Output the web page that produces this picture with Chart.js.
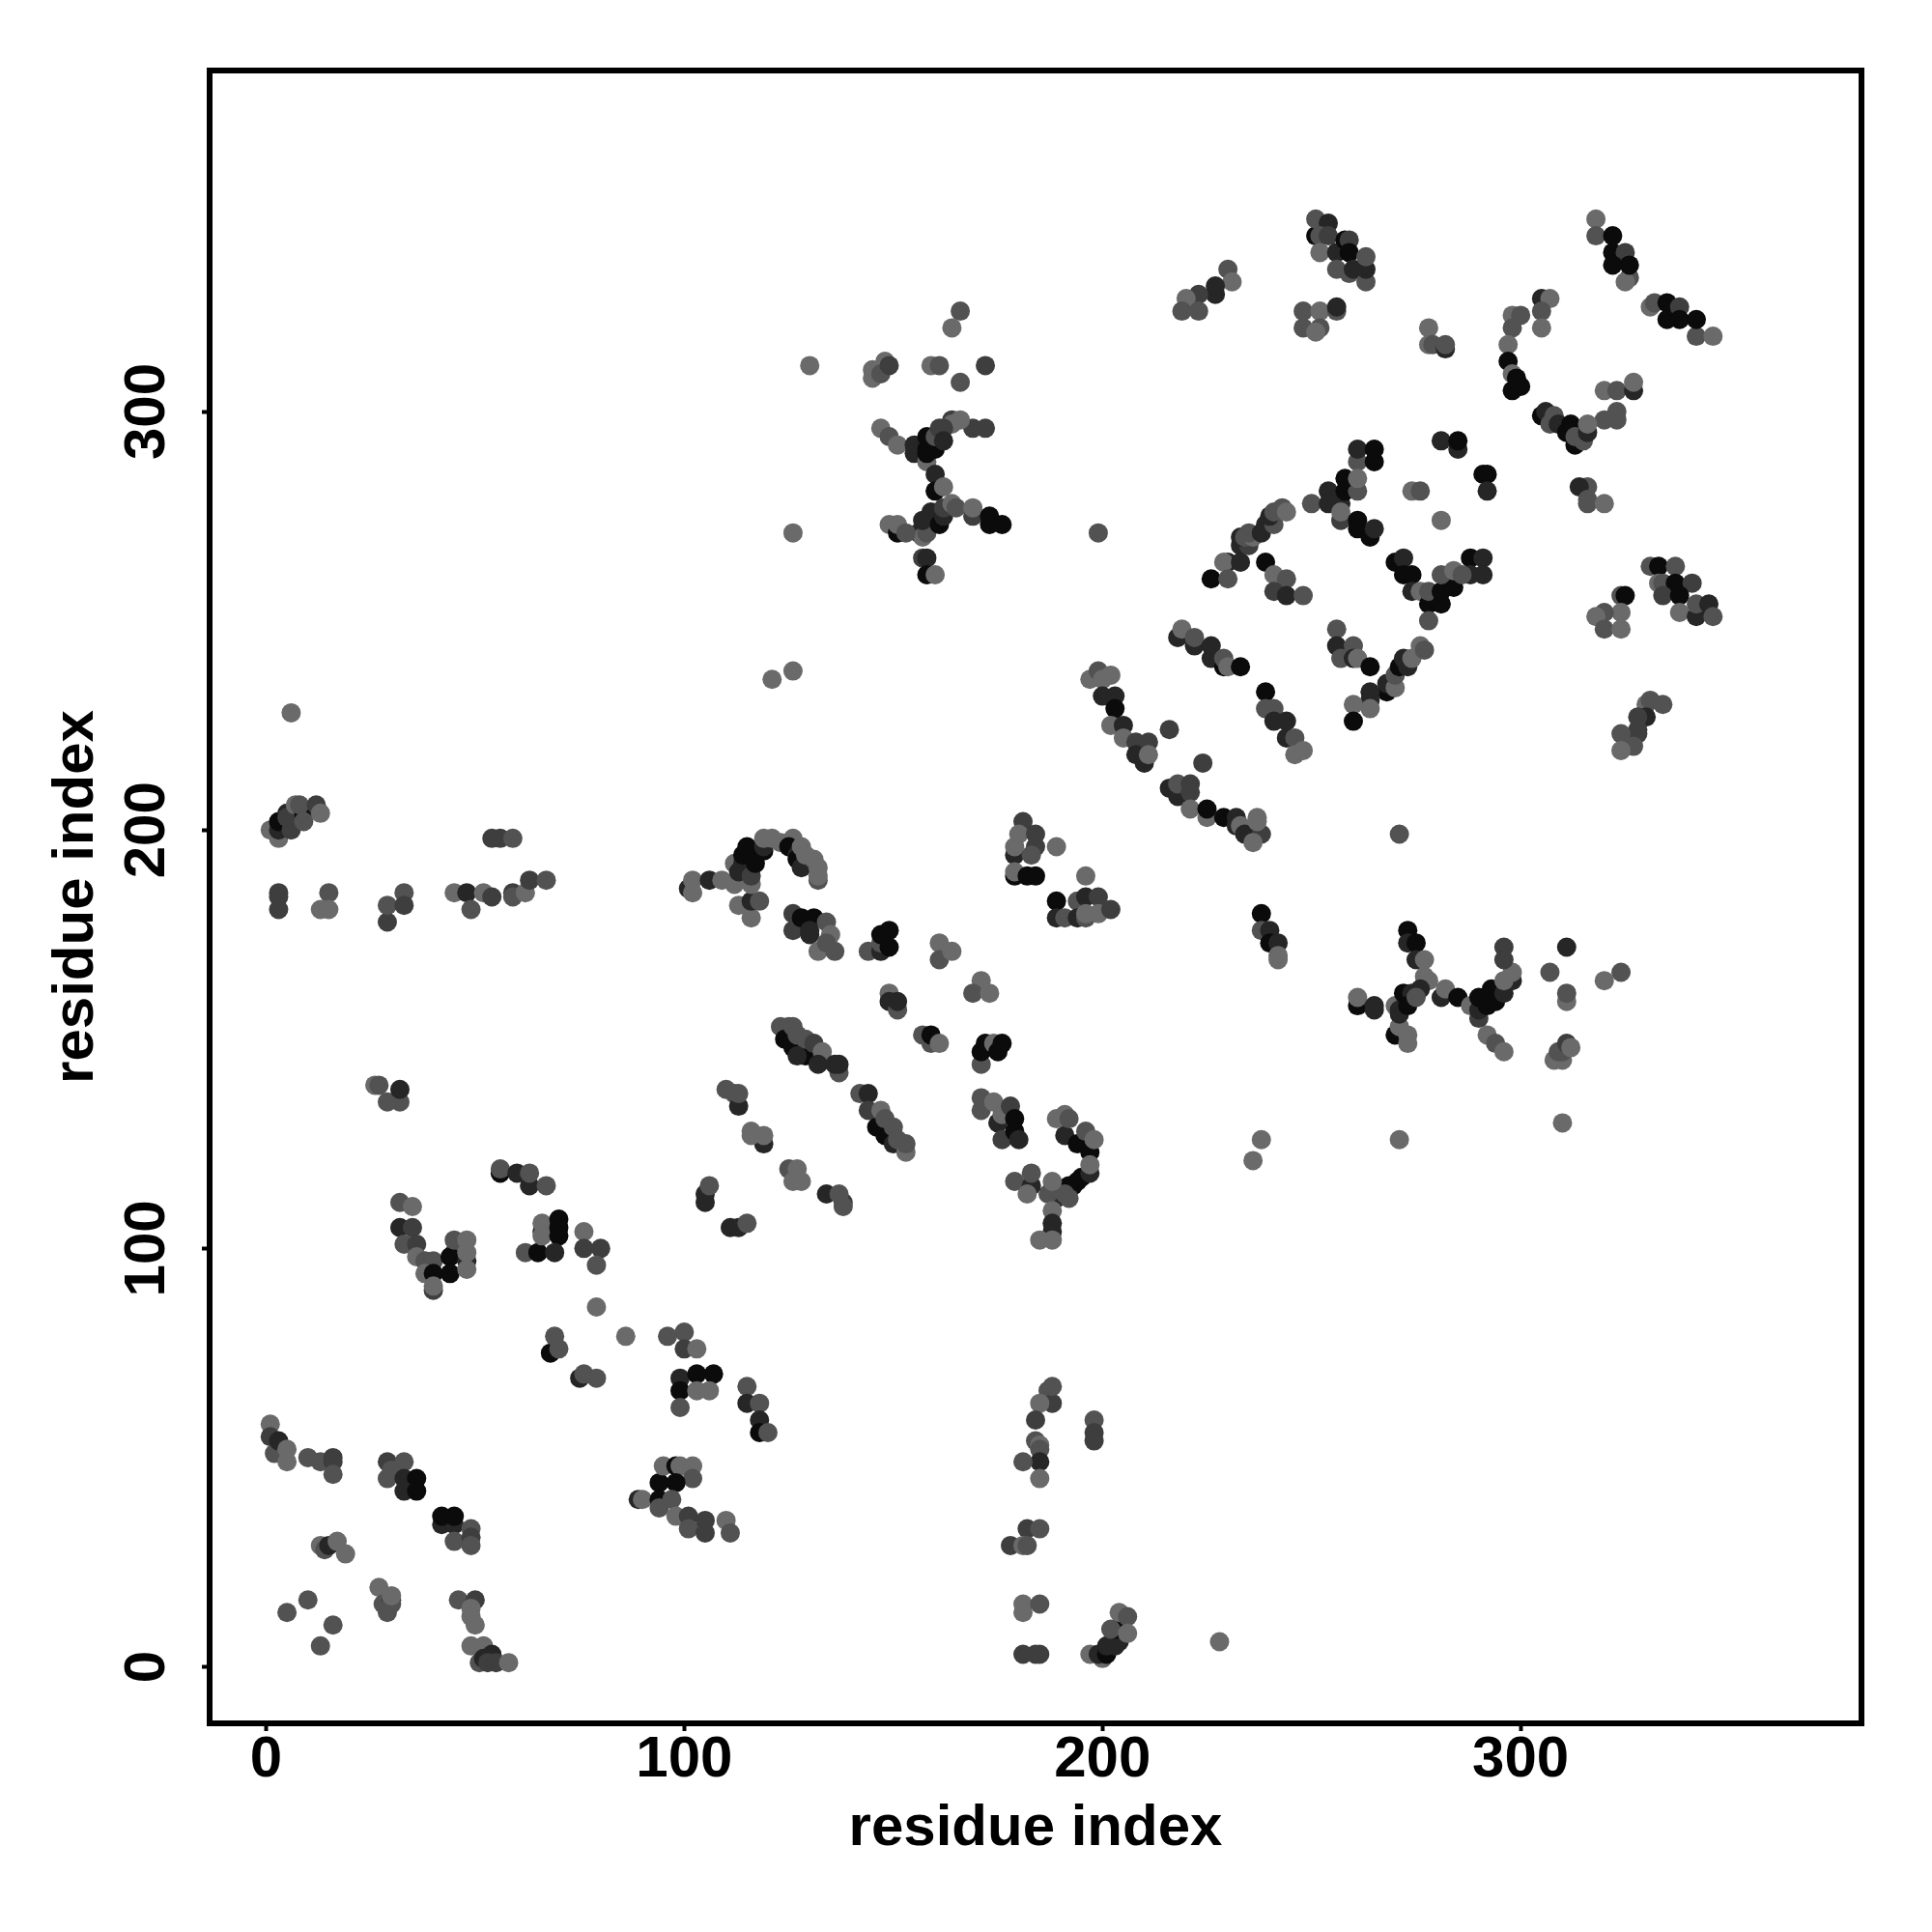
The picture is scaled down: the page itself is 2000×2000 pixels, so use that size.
<!DOCTYPE html>
<html>
<head>
<meta charset="utf-8">
<style>
html, body { margin: 0; padding: 0; background: #fff; }
canvas { display: block; }
</style>
<script src="https://cdn.jsdelivr.net/npm/chart.js@4"></script>
</head>
<body>
<canvas id="js--chart" width="2000" height="2000"></canvas>
<script>
// every contact is [residue x, residue y, strength], strength 0 (weak) to 4 (strong)
const bottomLeft = [
    [1,58,0],[1,55,2],[2,51,1],[3,54,3],[5,52,0],[5,49,0],[10,50,1],[13,49,1],[16,50,2],[16,49,2],[16,46,1],
    [29,49,2],[33,49,1],[29,45,1],[30,47,1],[33,45,3],[36,45,4],[33,42,3],[36,42,4],
    [42,34,3],[45,34,3],[42,36,4],[45,36,4],[49,33,1],[45,30,1],[49,31,2],[49,29,1],
    [13,29,0],[14,28,1],[15,29,3],[17,30,0],[19,27,0],
    [5,13,1],[10,16,1],[16,10,1],[13,5,1],
    [27,19,0],[29,13,1],[28,15,1],[30,16,3],[30,15,1],[30,17,0],
    [46,16,1],[50,16,2],[49,14,0],[49,12,0],[50,10,0],
    [49,5,0],[52,5,0],[51,1,1],[52,2,3],[54,3,3],[53,1,2],[55,1,2],[58,1,0]
];

const lowerBlock = [
    [32,111,1],[35,110,0],[32,105,3],[35,105,2],[33,101,1],[36,101,2],[36,98,0],[38,97,1],[40,97,1],
    [38,94,0],[40,90,2],[40,94,4],[40,91,0],[45,99,1],[44,98,4],[45,102,1],[48,102,0],[48,97,3],[48,99,0],[44,94,4],[48,95,0],
    [56,118,4],[56,119,1],[60,118,3],[63,115,3],[63,118,1],[67,115,1],
    [62,99,1],[65,99,4],[66,104,3],[66,106,0],[66,103,0],[70,107,4],[70,105,4],[70,103,4],[69,99,3],
    [76,104,0],[76,100,2],[80,100,2],[79,96,1],[79,86,0],[86,79,0],
    [96,79,1],[100,80,1],[100,76,2],[103,76,0],
    [68,75,4],[69,79,1],[70,76,1],[75,69,3],[76,70,1],[79,69,1],
    [99,69,3],[103,70,4],[107,70,4],[99,66,4],[103,66,0],[106,66,0],[99,62,1],
    [115,67,1],[115,63,3],[118,63,1],[118,59,3],[118,56,4],[120,56,1],
    [89,40,3],[90,40,0],[94,44,4],[94,40,4],[94,38,1],[95,48,0],[98,48,4],[99,48,0],[102,48,0],[102,45,1],[98,44,4],
    [97,40,1],[98,36,0],[101,36,2],[101,33,1],[105,35,2],[105,32,2],[110,35,0],[111,32,1]
];

const leftRow = [
    [1,200,0],[3,198,0],[3,200,3],[3,202,4],[5,204,3],[6,200,2],[5,203,2],[7,206,0],[9,204,4],[8,206,1],[9,202,1],[12,206,2],[13,204,0],
    [3,185,2],[3,184,2],[3,181,2],[15,185,1],[13,181,0],[15,181,0],
    [29,178,2],[29,182,1],[33,185,1],[33,182,2],
    [45,185,0],[48,185,3],[49,181,1],[52,185,0],[54,184,2],[59,185,2],[59,184,1],[62,185,0],[63,188,2],[67,188,1],
    [54,198,2],[56,198,2],[59,198,1],
    [26,139,0],[27,139,1],[32,135,1],[29,135,1],[32,138,3]
];

const middleBlock = [
    [101,186,3],[102,188,0],[102,185,0],[106,188,3],[109,188,0],[112,192,0],[112,187,0],[113,182,0],[116,179,0],[116,183,3],[118,183,1],
    [113,190,3],[114,192,3],[116,187,0],[116,189,2],[114,194,4],[116,194,4],[115,196,4],[117,192,4],[119,195,4],[119,196,3],[119,198,0],[121,198,0],
    [123,197,0],[126,198,0],[125,196,4],[127,194,3],[127,193,4],[128,191,3],[128,196,0],[129,194,0],[131,193,0],[132,191,0],[132,188,1],[132,189,0],
    [126,180,2],[126,176,2],[128,179,4],[131,179,4],[130,176,3],[130,175,3],[134,178,1],[135,175,0],[132,171,0],[134,173,1],[136,171,1],
    [144,171,1],[147,171,3],[147,173,1],[147,175,4],[149,176,4],[149,172,4],
    [161,173,0],[161,169,1],[164,171,0],[171,164,0],[169,161,1],[173,161,0],
    [149,161,0],[149,159,3],[151,157,1],[151,159,3],
    [157,151,1],[159,149,1],[159,151,4],[161,149,0],
    [171,144,1],[171,147,4],[172,149,4],[174,149,0],[175,147,4],[176,149,4],
    [123,153,1],[125,153,1],[126,148,4],[124,150,4],[126,153,1],[127,151,1],[129,147,3],[129,146,4],[129,150,1],[127,146,3],[131,149,2],[133,147,0],[132,144,3],[137,142,1],[136,144,3],[137,144,3],
    [110,138,1],[112,137,1],[113,134,3],[113,137,1],
    [119,125,3],[116,128,0],[116,127,0],[119,127,0],
    [142,137,1],[144,137,3],[144,133,2],[147,133,0],[146,129,4],[148,127,4],[148,131,1],[150,125,3],[150,129,1],[151,126,1],[153,123,0],[153,125,1],
    [171,133,1],[171,136,1],[175,130,3],[174,135,0],[176,132,0],[178,134,2],[176,126,2],[179,128,4],[179,131,4],[180,126,3],
    [191,127,3],[189,131,0],[191,132,0],[192,131,1],[194,125,4],[196,128,1],[197,123,4],[198,126,0],
    [195,117,4],[193,115,4],[194,116,4],[192,115,4],[197,118,3],[197,120,0],[189,112,3],[191,113,1],[192,112,1],[188,114,1],[187,113,1],[188,116,0],
    [179,116,1],[183,115,3],[183,118,1],[182,113,0],[188,109,0],[188,106,3],[188,104,3],[185,102,0],[188,102,0],
    [181,202,2],[180,199,0],[184,199,2],[184,196,2],[179,194,3],[179,196,0],[183,194,1],[179,189,4],[179,190,0],[182,189,4],[184,189,4],[189,196,0],[196,189,0],
    [189,183,4],[189,179,3],[191,179,1],[194,183,1],[196,184,3],[199,184,2],[194,179,3],[196,179,1],[196,180,0],[199,180,0],[202,181,2],
    [105,111,3],[105,113,3],[106,115,1],[111,105,3],[113,105,3],[115,106,1],
    [125,119,1],[127,119,0],[126,116,0],[128,116,0],[134,113,3],[138,111,2],[137,113,1],[138,110,1]
];

const bottomRight = [
    [187,66,1],[188,63,2],[188,67,1],[185,63,0],[184,59,2],[198,59,1],[198,56,2],[198,54,2],
    [184,54,1],[185,53,0],[185,52,1],[185,49,3],[181,49,1],[185,45,0],
    [182,33,2],[185,33,1],[178,29,2],[181,29,0],[182,29,1],
    [181,15,0],[181,13,0],[185,15,1],[181,3,2],[184,3,2],[185,3,2],
    [197,3,0],[200,2,0],[199,3,3],[201,3,4],[201,5,3],[203,5,3],[204,6,3],[203,9,4],[202,9,1],[204,13,0],[206,12,1],[206,8,0],[228,6,0]
];

const centreRight = [
    [238,180,4],[238,176,1],[240,176,3],[240,173,4],[242,173,3],[242,170,0],[242,169,0],[238,126,0],[236,121,0],[271,126,0],[310,130,0],
    [261,158,4],[261,160,0],[265,158,3],[265,157,3],
    [273,176,4],[273,173,3],[275,173,4],[275,169,3],[277,169,0],[277,165,0],[278,164,0],
    [270,151,4],[271,153,0],[273,151,0],[273,149,0],[270,158,0],[271,156,3],[271,157,3],[272,161,4],[274,161,3],[273,158,4],[276,162,3],[275,160,1],
    [281,160,3],[282,162,0],[285,160,4],[288,158,0],
    [290,155,2],[290,157,3],[290,160,4],[293,162,4],[292,158,4],[294,159,4],[296,161,3],[298,164,3],[296,164,0],[298,166,0],
    [292,151,0],[294,149,1],[296,147,0],[296,172,2],[296,169,2],
    [307,166,1],[311,172,3],[311,159,0],[311,161,1],[324,166,1],[320,164,0],
    [308,145,0],[310,145,0],[309,147,1],[310,147,1],[311,149,2],[312,148,0]
];

const diagonalBlock = [
    [199,271,1],
    [230,264,3],[229,264,0],[233,264,3],[233,268,3],[235,268,2],[233,270,3],[234,270,1],[236,270,0],[235,271,1],[238,271,3],[239,273,3],[241,273,1],[240,275,3],[241,276,1],[243,277,1],[244,276,0],
    [226,260,4],[230,260,1],[239,264,4],[241,261,0],[244,260,1],[241,257,2],[244,256,3],[248,256,1],[250,278,1],
    [254,281,3],[254,278,3],[257,278,3],[257,274,2],[257,276,0],[258,281,4],[261,281,1],[261,274,4],[261,272,4],[264,270,4],[265,272,3],[274,281,0],[276,281,1],[281,274,0],
    [270,264,4],[272,265,3],[272,261,4],[274,261,4],[274,257,3],[276,257,0],[278,254,4],[278,257,1],[281,254,4],[281,257,4],[284,258,4],[281,261,1],[284,262,0],
    [288,265,4],[291,265,3],[288,261,3],[291,261,3],[286,261,1],[278,250,1],
    [256,248,1],[256,244,3],[260,244,1],[257,241,1],[260,241,3],[261,241,0],[264,239,4],
    [268,233,4],[268,235,3],[270,234,0],[270,237,1],[271,239,4],[273,239,3],[272,241,3],[274,241,0],[276,244,0],[277,243,1],
    [264,233,3],[264,231,3],[264,229,0],[260,230,0],[260,226,4],
    [239,233,4],[239,229,1],[241,229,1],[241,226,3],[244,226,3],[244,222,3],[246,222,1],[246,218,0],[248,219,0],
    [218,246,3],[219,248,0],[222,244,3],[222,246,1],[226,244,3],[226,241,3],[229,239,4],[229,241,1],[230,239,0],[233,239,4],
    [197,236,0],[199,238,1],[200,236,0],[202,237,0],[200,232,3],[203,232,3],[203,229,4],[202,225,0],[205,225,3],[205,222,0],
    [208,221,2],[211,221,2],[208,218,3],[210,216,3],[211,218,0],[216,224,2],[224,216,2],
    [216,210,3],[218,208,3],[218,211,1],[221,211,2],[221,209,2],[221,205,0],[225,203,0],[225,205,4],[229,203,4],[232,203,3],[232,201,3],[233,201,0],
    [234,199,3],[238,199,2],[237,203,0],[237,202,0],[236,197,0],[271,199,1]
];

const topRight = [
    [318,346,0],[318,342,1],[322,342,4],[322,338,4],[325,338,2],[322,335,4],[326,332,1],[325,331,0],[326,335,4],
    [331,325,0],[332,326,1],[335,326,4],[335,322,4],[338,325,2],[338,322,4],[342,318,1],[342,322,4],[346,318,0],
    [305,327,3],[307,327,0],[305,324,1],[305,320,0],[298,323,0],[300,323,1],[298,320,1],[297,316,0],[297,312,4],[298,309,0],[298,305,4],[300,306,4],[299,308,4],
    [320,305,0],[323,305,1],[327,305,3],[327,307,0],[320,298,1],[323,298,1],[323,300,1],
    [305,299,4],[306,300,3],[307,297,1],[308,299,1],[309,297,3],[311,295,4],[313,292,4],[312,297,4],[313,294,1],[315,293,1],[316,295,3],[316,297,0],
    [230,334,1],[231,331,0],[227,328,3],[227,330,3],[223,328,2],[220,327,0],[219,324,1],[223,324,1],
    [251,342,4],[251,346,1],[254,345,3],[252,342,1],[254,342,2],[252,338,0],[256,338,3],[258,341,4],[259,341,2],[259,338,4],[256,334,1],[259,333,1],[260,334,3],[263,331,1],[263,334,3],[263,337,1],
    [248,324,1],[252,324,0],[256,324,1],[256,325,3],[248,320,1],[252,320,1],[251,319,0],
    [278,320,0],[278,316,0],[279,316,1],[282,315,3],[282,316,1],
    [261,288,1],[261,291,3],[265,288,4],[265,291,4],[258,284,4],[261,284,0],
    [281,293,3],[285,291,3],[285,293,4],[291,285,4],[292,285,4],[292,281,3],
    [316,282,1],[314,282,3],[316,279,1],[316,278,1],[320,278,0],
    [331,263,1],[333,263,4],[337,263,1],[333,259,0],[334,259,1],[337,259,4],[341,259,2],[334,256,2],[338,256,4],[338,252,0],[342,251,3],[342,254,1],[345,254,3],[346,251,1],
    [324,256,1],[325,256,4],[324,252,0],[320,252,1],[318,251,0],[320,248,1],[324,248,0],
    [330,230,0],[331,231,1],[334,230,1],[330,227,3],[328,227,2],[328,224,2],[328,223,2],[324,223,1],[327,220,1],[324,219,0]
];

const upperMiddle = [
    [6,228,0],[121,236,0],[126,238,0],[126,271,0],[130,311,0],
    [166,324,1],[164,320,0],[172,311,2],[159,311,0],[161,311,1],[166,307,1],
    [145,310,0],[145,308,0],[148,312,0],[147,310,0],[147,309,1],[149,311,2],
    [147,296,0],[149,294,1],[151,292,0],[169,296,2],[172,296,2],[164,298,2],[166,298,0],[164,297,0],
    [155,292,3],[155,290,3],[158,294,4],[158,291,4],[158,288,0],[158,290,4],[160,291,4],[160,294,1],[161,296,2],[162,296,2],[162,293,3],
    [160,285,3],[160,281,4],[162,282,0],
    [156,271,3],[157,270,0],[158,271,1],[157,274,3],[159,276,3],[161,273,4],[162,275,3],[162,277,2],[164,278,0],[165,277,1],
    [169,275,2],[169,277,0],[173,273,4],[173,275,4],[176,273,4],
    [149,273,0],[151,271,4],[151,273,0],[153,271,1],
    [157,265,2],[158,265,3],[158,261,4],[160,261,0]
];

const tickValues = [0, 100, 200, 300];
const strengthColors = ['#6a6a6a', '#525252', '#3e3e3e', '#262626', '#0b0b0b'];

const contacts = [].concat(bottomLeft, lowerBlock, leftRow, middleBlock, bottomRight, centreRight, diagonalBlock, topRight, upperMiddle);

// box round the plot, the axes only give one side each
const plotBox = {
    id: 'plotBox',
    afterDatasetsDraw(chart) {
        const a = chart.chartArea;
        const c = chart.ctx;
        c.save();
        c.lineWidth = 6;
        c.strokeStyle = '#000';
        c.strokeRect(a.left, a.top, a.width, a.height);
        c.restore();
    }
};

const bold60 = { family: '"Liberation Sans", Arial, sans-serif', size: 60, weight: 'bold' };

function axis(width, height, titlePad) {
    return {
        type: 'linear',
        min: -13.5,
        max: 381.5,
        grid: { drawOnChartArea: false, drawTicks: true, tickLength: 8, tickWidth: 4, tickColor: '#000' },
        border: { display: false },
        title: { display: true, text: 'residue index', color: '#000', font: bold60, padding: titlePad },
        afterBuildTicks(scale) {
            scale.ticks = tickValues.map(v => ({ value: v }));
        },
        afterFit(scale) {
            if (width) scale.width = width;
            if (height) scale.height = height;
        }
    };
}

const xAxis = axis(0, 216, { top: 0, bottom: 71 });
xAxis.ticks = { color: '#000', font: bold60, padding: -6, maxRotation: 0, minRotation: 0 };

const yAxis = axis(217, 0, { top: 43, bottom: 0 });
yAxis.ticks = { color: '#000', font: bold60, padding: 5, minRotation: 90, maxRotation: 90, crossAlign: 'center' };

new Chart(document.getElementById('js--chart'), {
    type: 'scatter',
    data: {
        datasets: [{
            label: 'contacts',
            data: contacts.map(p => ({ x: p[0], y: p[1] })),
            backgroundColor: contacts.map(p => strengthColors[p[2]]),
            borderWidth: 0,
            pointRadius: 10,
            pointHoverRadius: 10
        }]
    },
    options: {
        responsive: false,
        animation: false,
        layout: { padding: { top: 73, right: 73, left: 0, bottom: 0 } },
        plugins: { legend: { display: false }, tooltip: { enabled: false } },
        scales: { x: xAxis, y: yAxis }
    },
    plugins: [plotBox]
});
</script>
</body>
</html>
